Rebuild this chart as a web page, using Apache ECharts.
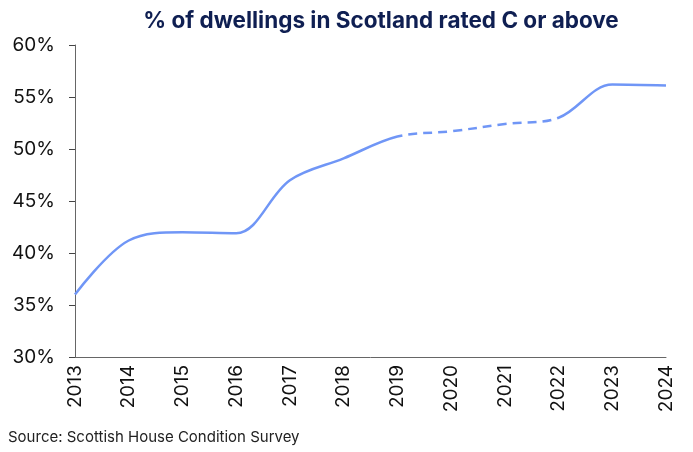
<!DOCTYPE html>
<html>
<head>
<meta charset="utf-8">
<script src="https://cdn.jsdelivr.net/npm/echarts@6/dist/echarts.min.js"></script>
<style>
html,body{margin:0;padding:0;background:#fff;}
#charts{width:693px;height:452px;}
</style>
</head>
<body>
<div id="charts"></div>
<script>
// % of dwellings rated EPC C or above
var years = ["2013","2014","2015","2016","2017","2018","2019","2020","2021","2022","2023","2024"];
var pctRatedC = [36.0, 41.2, 42.0, 41.9, 47.0, 49.1, 51.2, 51.7, 52.4, 53.0, 56.2, 56.1];
// no survey in 2020 and 2021: this stretch is drawn dashed
var dashedFrom = 6, dashedTo = 9;   // indexes of 2019 and 2022
var yTicks = {min: 30, max: 60, step: 5};

var lineColor = '#7096f6';
var hidden = 'rgba(112,150,246,0)';
var fontFamily = 'Inter, "Noto Sans", sans-serif';

function tochart(options){
	var charts = echarts.init(document.getElementById('charts'));
	charts.setOption(options);
}

var options = {
	animation: false,
	title: {
		text: '% of dwellings in Scotland rated C or above',
		left: 376,
		top: 5,
		textAlign: 'center',
		textStyle: {
			color: '#0f1f52',
			fontSize: 22.5,
			fontWeight: 700,
			fontFamily: fontFamily
		}
	},
	graphic: [{
		type: 'text',
		left: 8,
		top: 430,
		style: {
			text: 'Source: Scottish House Condition Survey',
			fill: '#222',
			font: '15px ' + fontFamily
		}
	}],
	grid: {
		left: 75,
		right: 27,
		top: 45,
		bottom: 95
	},
	// show each series only on its own stretch, keeping one smooth curve
	visualMap: [{
		type: 'piecewise',
		show: false,
		seriesIndex: 0,
		dimension: 0,
		pieces: [
			{lte: dashedFrom, color: lineColor},
			{gt: dashedFrom, lt: dashedTo, color: hidden},
			{gte: dashedTo, color: lineColor}
		]
	}, {
		type: 'piecewise',
		show: false,
		seriesIndex: 1,
		dimension: 0,
		pieces: [
			{lt: dashedFrom, color: hidden},
			{gte: dashedFrom, lte: dashedTo, color: lineColor},
			{gt: dashedTo, color: hidden}
		]
	}],
	xAxis: {
		type: 'category',
		boundaryGap: false,
		data: years,
		axisLine: {
			lineStyle: {color: '#666', width: 1}
		},
		axisTick: {show: false},
		axisLabel: {
			rotate: 90,
			margin: 8,
			color: '#111',
			fontSize: 19,
			fontFamily: fontFamily
		}
	},
	yAxis: {
		type: 'value',
		min: yTicks.min,
		max: yTicks.max,
		interval: yTicks.step,
		splitLine: {show: false},
		axisLine: {
			show: true,
			lineStyle: {color: '#666', width: 1}
		},
		axisTick: {
			show: true,
			length: 6,
			lineStyle: {color: '#444'}
		},
		axisLabel: {
			formatter: '{value}%',
			margin: 20,
			color: '#111',
			fontSize: 19,
			fontFamily: fontFamily
		}
	},
	series: [{
		name: 'surveyed',
		type: 'line',
		data: pctRatedC,
		smooth: 0.35,
		showSymbol: false,
		lineStyle: {width: 2.5}
	}, {
		name: 'no survey',
		type: 'line',
		data: pctRatedC,
		smooth: 0.35,
		showSymbol: false,
		lineStyle: {width: 2.5, type: [9, 6]}
	}]
};

tochart(options);
</script>
</body>
</html>
